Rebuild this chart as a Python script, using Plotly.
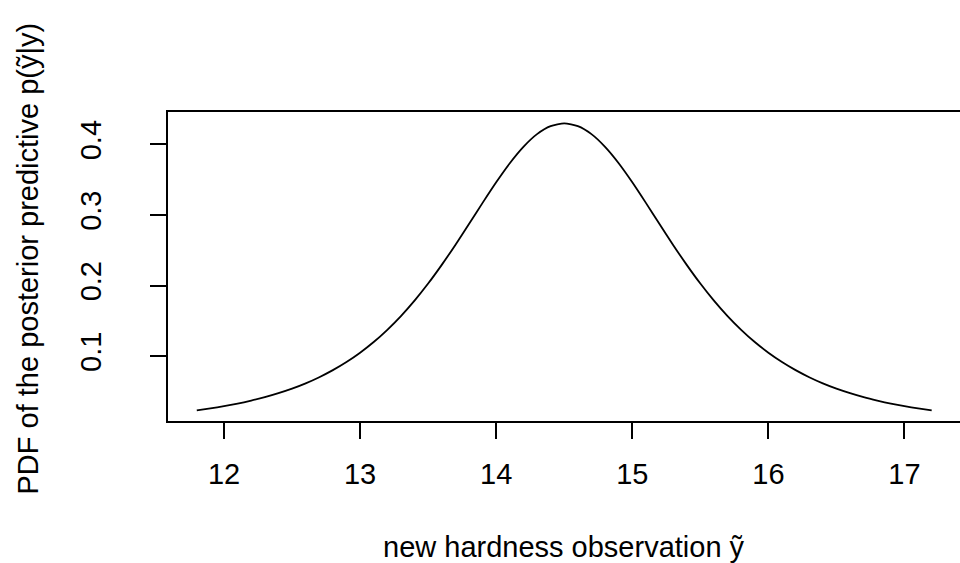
import plotly.graph_objects as go

# x positions of the curve (new hardness observation)
x_obs = [11.8, 11.9, 12.0, 12.1, 12.2, 12.3, 12.4, 12.5, 12.6, 12.7,
         12.8, 12.9, 13.0, 13.1, 13.2, 13.3, 13.4, 13.5, 13.6, 13.7,
         13.8, 13.9, 14.0, 14.1, 14.2, 14.3, 14.4, 14.5, 14.6, 14.7,
         14.8, 14.9, 15.0, 15.1, 15.2, 15.3, 15.4, 15.5, 15.6, 15.7,
         15.8, 15.9, 16.0, 16.1, 16.2, 16.3, 16.4, 16.5, 16.6, 16.7,
         16.8, 16.9, 17.0, 17.1, 17.2]

# PDF values
pdf_vals = [0.0230, 0.0258, 0.0290, 0.0327, 0.0370, 0.0418, 0.0475, 0.0539, 0.0614, 0.0701,
            0.0801, 0.0916, 0.1048, 0.1199, 0.1372, 0.1567, 0.1786, 0.2028, 0.2293, 0.2576,
            0.2872, 0.3172, 0.3464, 0.3734, 0.3966, 0.4146, 0.4259, 0.4298, 0.4259, 0.4146,
            0.3966, 0.3734, 0.3464, 0.3172, 0.2872, 0.2576, 0.2293, 0.2028, 0.1786, 0.1567,
            0.1372, 0.1199, 0.1048, 0.0916, 0.0801, 0.0701, 0.0614, 0.0539, 0.0475, 0.0418,
            0.0370, 0.0327, 0.0290, 0.0258, 0.0230]

x_ticks = [12, 13, 14, 15, 16, 17]
x_tick_labels = ["12", "13", "14", "15", "16", "17"]
y_ticks = [0.1, 0.2, 0.3, 0.4]
y_tick_labels = ["0.1", "0.2", "0.3", "0.4"]

x_title = "new hardness observation \u1ef9"
y_title = "PDF of the posterior predictive p(\u1ef9|y)"

FONT = "Liberation Sans, Arial, Helvetica, sans-serif"
FS = 29

fig = go.Figure()
fig.add_trace(go.Scatter(
    x=x_obs, y=pdf_vals, mode="lines",
    line=dict(color="black", width=1.8, shape="spline", smoothing=0.6),
    hoverinfo="skip", showlegend=False,
))

fig.update_layout(
    width=960, height=563,
    margin=dict(l=168, r=0, t=112, b=142),
    paper_bgcolor="white", plot_bgcolor="white",
    font=dict(family=FONT, size=FS, color="black"),
    showlegend=False,
)

fig.update_xaxes(
    range=[11.5885, 17.408],
    tickmode="array", tickvals=x_ticks, ticktext=x_tick_labels,
    ticks="outside", ticklen=16, tickwidth=1.5, tickcolor="black",
    showline=True, linecolor="black", linewidth=1.8, mirror=True,
    showgrid=False, zeroline=False,
    ticklabelstandoff=10,
)
fig.update_yaxes(
    range=[0.008, 0.446],
    tickmode="array", tickvals=y_ticks, ticktext=y_tick_labels,
    ticks="outside", ticklen=16, tickwidth=1.5, tickcolor="black",
    showline=True, linecolor="black", linewidth=1.8, mirror=False,
    showgrid=False, zeroline=False, tickangle=-90,
    ticklabelstandoff=38,
)

fig.add_annotation(
    text=x_title, xref="paper", yref="paper", x=0.5, y=0,
    xanchor="center", yanchor="middle", yshift=-126, showarrow=False,
    font=dict(family=FONT, size=FS, color="black"),
)
fig.add_annotation(
    text=y_title, xref="paper", yref="paper", x=0, y=0.5,
    xanchor="center", yanchor="middle", xshift=-141, yshift=8, textangle=-90,
    showarrow=False,
    font=dict(family=FONT, size=FS, color="black"),
)

fig.write_html(
    "out.html",
    config={"displayModeBar": False},
    post_script="document.body.style.margin='0';document.body.style.padding='0';document.body.style.overflow='hidden';",
)
